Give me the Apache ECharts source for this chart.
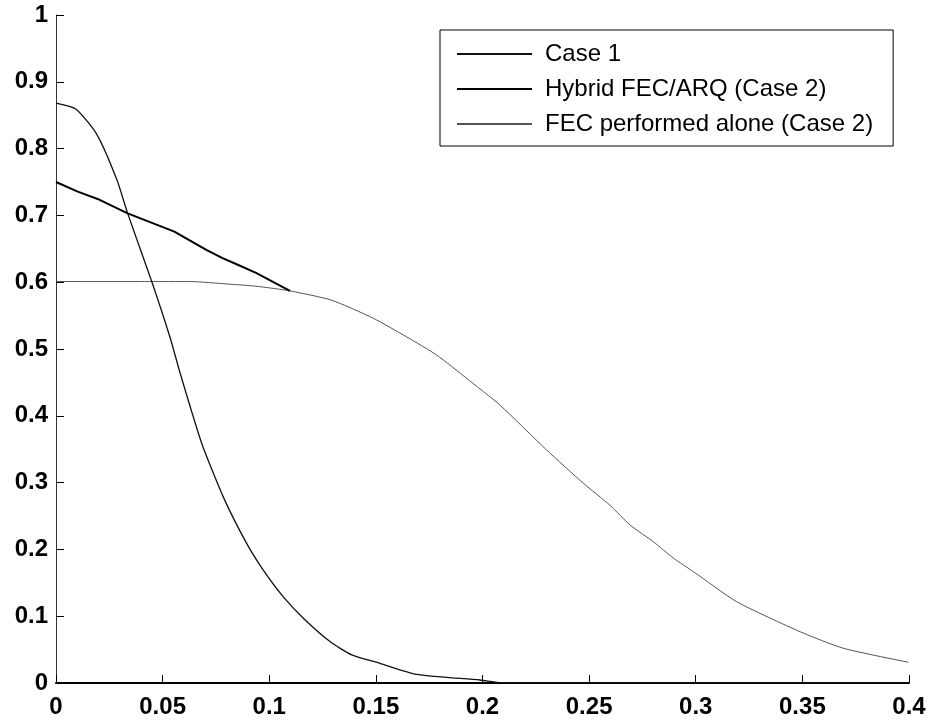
<!DOCTYPE html>
<html lang="en">
<head>
    <meta charset="UTF-8">
    <title>Case 1 vs Case 2</title>
    <script src="https://cdn.jsdelivr.net/npm/echarts@6/dist/echarts.min.js"></script>
    <style>
        html, body { margin: 0; padding: 0; background: #fff; }
        #chart { width: 932px; height: 722px; }
    </style>
</head>
<body>
    <div id="chart"></div>

    <script>
        // values
        const case1X = [0, 0.0094, 0.0192, 0.0286, 0.0336, 0.0449, 0.0536, 0.0582, 0.0683, 0.0788, 0.0894,
            0.0972, 0.1066, 0.1160, 0.1285, 0.1387, 0.1519, 0.169, 0.1988, 0.21, 0.4];
        const case1Y = [0.868, 0.859, 0.821, 0.753, 0.703, 0.601, 0.516, 0.464, 0.359, 0.276, 0.209,
            0.169, 0.129, 0.097, 0.062, 0.042, 0.0295, 0.013, 0.0045, 0, 0];

        const hybridX = [0, 0.0102, 0.0195, 0.0336, 0.0555, 0.0707, 0.0781, 0.0855, 0.0938, 0.1097];
        const hybridY = [0.750, 0.7355, 0.7246, 0.703, 0.6757, 0.648, 0.636, 0.6257, 0.614, 0.587];

        const fecX = [0, 0.044, 0.0625, 0.0816, 0.0938, 0.1097, 0.1293, 0.1488, 0.1645, 0.1785, 0.1926,
            0.2082, 0.230, 0.2473, 0.2598, 0.2692, 0.2801, 0.2895, 0.2989, 0.3192, 0.3489, 0.3692, 0.3997];
        const fecY = [0.601, 0.601, 0.601, 0.597, 0.594, 0.587, 0.573, 0.546, 0.518, 0.491, 0.456,
            0.416, 0.349, 0.299, 0.266, 0.2365, 0.2115, 0.187, 0.1667, 0.1217, 0.0768, 0.052, 0.031];

        const seriesNames = ['Case 1', 'Hybrid FEC/ARQ (Case 2)', 'FEC performed alone (Case 2)'];

        const pairs = (xs, ys) => xs.map((x, i) => [x, ys[i]]);
        const font = 'Liberation Sans, Arial, sans-serif';

        const chart = echarts.init(document.getElementById('chart'));

        chart.setOption({
            animation: false,
            backgroundColor: '#fff',
            grid: { left: 56, right: 23, top: 15, bottom: 39, containLabel: false },
            legend: {
                data: seriesNames,
                orient: 'vertical',
                left: 440,
                top: 30,
                padding: [12, 20, 10, 16],
                itemWidth: 75,
                itemHeight: 14,
                itemGap: 11,
                borderColor: '#000',
                borderWidth: 1,
                backgroundColor: '#fff',
                // line samples only, no marker
                itemStyle: { opacity: 0 },
                textStyle: { fontFamily: font, fontSize: 24, color: '#000', padding: [0, 0, 0, 8] }
            },
            xAxis: {
                type: 'value',
                min: 0,
                max: 0.4,
                interval: 0.05,
                splitLine: { show: false },
                axisLine: { lineStyle: { color: '#000', width: 2 } },
                axisTick: { inside: true, length: 8, lineStyle: { color: '#000' } },
                axisLabel: { fontFamily: font, fontSize: 24, fontWeight: 'bold', color: '#000', margin: 12 }
            },
            yAxis: {
                type: 'value',
                min: 0,
                max: 1,
                interval: 0.1,
                splitLine: { show: false },
                axisLine: { show: true, lineStyle: { color: '#333', width: 1 } },
                axisTick: { show: true, inside: true, length: 8, lineStyle: { color: '#000' } },
                axisLabel: { fontFamily: font, fontSize: 24, fontWeight: 'bold', color: '#000', margin: 8 }
            },
            series: [
                {
                    name: seriesNames[0],
                    type: 'line',
                    data: pairs(case1X, case1Y),
                    symbol: 'none',
                    smooth: 0.2,
                    z: 3,
                    lineStyle: { color: '#111', width: 1.3 },
                    itemStyle: { color: '#111' }
                },
                {
                    name: seriesNames[1],
                    type: 'line',
                    data: pairs(hybridX, hybridY),
                    symbol: 'none',
                    z: 4,
                    lineStyle: { color: '#000', width: 2 },
                    itemStyle: { color: '#000' }
                },
                {
                    name: seriesNames[2],
                    type: 'line',
                    data: pairs(fecX, fecY),
                    symbol: 'none',
                    smooth: 0.2,
                    z: 2,
                    lineStyle: { color: '#555', width: 1 },
                    itemStyle: { color: '#555' }
                }
            ]
        });
    </script>
</body>
</html>
